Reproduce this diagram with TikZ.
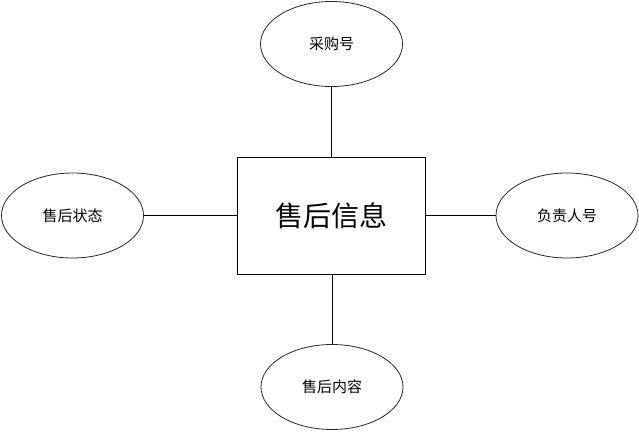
\documentclass[tikz,border=0pt]{standalone}
\usepackage{fontspec}
\setmainfont{Noto Sans CJK SC}
\usetikzlibrary{shapes.geometric}
\begin{document}
\begin{tikzpicture}[x=1pt,y=-1pt,
  attr/.style={draw=black!85,line width=0.8pt,ellipse,minimum width=142pt,minimum height=85pt,inner sep=0pt,font=\fontsize{15}{18}\selectfont},
  ent/.style={draw=black,line width=0.8pt,rectangle,minimum width=188pt,minimum height=117pt,inner sep=0pt,font=\fontsize{28}{32}\selectfont},
  conn/.style={draw=black,line width=0.8pt}]
\useasboundingbox (0,0) rectangle (639,431);
\node[ent] (e) at (331,215.5) {售后信息};
\node[attr] (t) at (331.5,44) {采购号};
\node[attr] (l) at (72.5,215.5) {售后状态};
\node[attr] (r) at (567,215.5) {负责人号};
\node[attr] (b) at (332,387) {售后内容};
\draw[conn] (t) -- (t |- e.north);
\draw[conn] (l) -- (e);
\draw[conn] (e) -- (r);
\draw[conn] (b) -- (b |- e.south);
\end{tikzpicture}
\end{document}
